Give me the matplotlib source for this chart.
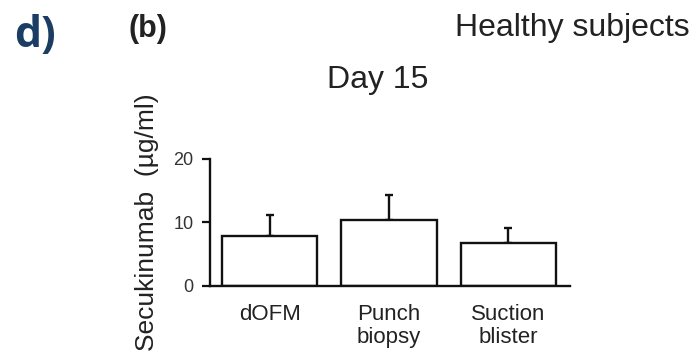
import matplotlib
matplotlib.use("Agg")
import matplotlib.pyplot as plt
import numpy as np

categories = ["dOFM", "Punch\nbiopsy", "Suction\nblister"]
means = [7.9, 10.4, 6.8]
errors = [3.3, 3.9, 2.3]
yticks = [0, 10, 20]

plt.rcParams['font.family'] = ['Liberation Sans', 'DejaVu Sans']

fig = plt.figure(figsize=(6.98, 3.52), dpi=100)
ax = fig.add_axes([0.301, 0.1875, 0.516, 0.361])

x = np.arange(len(categories))
ax.bar(x, means, width=0.8, color='white', edgecolor='#111111', linewidth=1.7, zorder=2)
ax.errorbar(x, means, yerr=[np.zeros(len(errors)), errors], fmt='none',
            ecolor='#111111', elinewidth=1.7, capsize=3, capthick=1.7, zorder=1)

ax.set_xlim(-0.5, 2.52)
ax.set_ylim(0, 20)
ax.set_yticks(yticks)
ax.set_yticklabels([str(t) for t in yticks], fontsize=13, color='#333333')
ax.set_xticks(x)
ax.set_xticklabels(categories, fontsize=16, color='#222222', linespacing=1.1)
ax.tick_params(axis='x', length=0, pad=13)
ax.tick_params(axis='y', length=6, width=1.6, pad=6, color='#111111')
for s in ['top', 'right']:
    ax.spines[s].set_visible(False)
for s in ['left', 'bottom']:
    ax.spines[s].set_linewidth(1.7)
    ax.spines[s].set_color('#111111')

ax.set_ylabel("Secukinumab  (µg/ml)", fontsize=19, color='#222222', labelpad=10)

fig.text(378/698, 1 - 80/352, "Day 15", fontsize=23, ha='center', va='center', color='#222222')
fig.text(690/698, 1 - 28/352, "Healthy subjects", fontsize=23, ha='right', va='center', color='#222222')
fig.text(128/698, 1 - 29/352, "(b)", fontsize=22, fontweight='bold', ha='left', va='center', color='#222222')
fig.text(14/698, 1 - 35/352, "d)", fontsize=31, fontweight='bold', ha='left', va='center',
         color='#1c3d63', family=['Open Sans', 'DejaVu Sans'])

fig.savefig("out.png", dpi=100)
